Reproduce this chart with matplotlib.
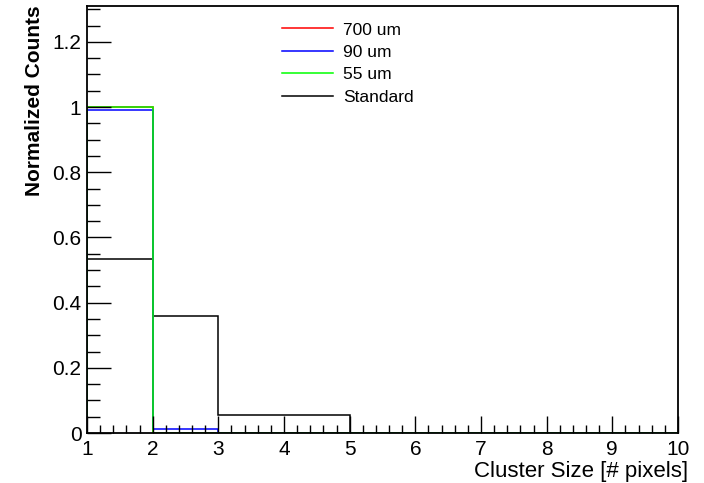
import numpy as np
import matplotlib
matplotlib.use('Agg')
import matplotlib.pyplot as plt
from matplotlib.ticker import MultipleLocator

plt.rcParams['font.family'] = ['Liberation Sans', 'DejaVu Sans']

edges = np.arange(1, 11)
h_700 = [1.0, 0, 0, 0, 0, 0, 0, 0, 0]
h_90 = [0.99, 0.012, 0, 0, 0, 0, 0, 0, 0]
h_55 = [1.0, 0, 0, 0, 0, 0, 0, 0, 0]
h_std = [0.535, 0.36, 0.055, 0.055, 0, 0, 0, 0, 0]
yticks = [0, 0.2, 0.4, 0.6, 0.8, 1.0, 1.2]
ytick_labels = ['0', '0.2', '0.4', '0.6', '0.8', '1', '1.2']

fig = plt.figure(figsize=(7.04, 4.83), dpi=100)
ax = fig.add_axes([0.1236, 0.1035, 0.8394, 0.8841])

# histograms sit under the frame, like ROOT draws them
ax.stairs(h_std, edges, color='black', lw=1.1, label='Standard', zorder=1.1)
ax.stairs(h_700, edges, color='#ff0000', lw=1.1, label='700 um', zorder=1.2)
ax.stairs(h_90, edges, color='#0000ff', lw=1.1, label='90 um', zorder=1.3)
ax.stairs(h_55, edges, color='#00ff00', lw=1.1, label='55 um', zorder=1.4)
for sp in ax.spines.values():
    sp.set_zorder(5)
    sp.set_linewidth(1.3)

ax.set_xlim(1, 10)
ax.set_ylim(0, 1.31)
ax.xaxis.set_major_locator(MultipleLocator(1))
ax.xaxis.set_minor_locator(MultipleLocator(0.2))
ax.set_yticks(yticks)
ax.set_yticklabels(ytick_labels)
ax.yaxis.set_minor_locator(MultipleLocator(0.05))
ax.tick_params(which='both', direction='in', top=False, right=False, labelsize=15, width=1)
ax.tick_params(axis='y', which='major', length=17, pad=4)
ax.tick_params(axis='y', which='minor', length=9)
ax.tick_params(axis='x', which='major', length=12, pad=5)
ax.tick_params(axis='x', which='minor', length=6)

fig.text(688 / 704, 1 - 477 / 483, 'Cluster Size [# pixels]', fontsize=16,
         ha='right', va='baseline')
fig.text(35 / 704, 1 - 5 / 483, 'Normalized Counts', fontsize=15, fontweight='bold',
         rotation=90, ha='center', va='top')

handles, labels = ax.get_legend_handles_labels()
order = [1, 2, 3, 0]
ax.legend([handles[i] for i in order], [labels[i] for i in order],
          loc='upper left', bbox_to_anchor=(0.31, 0.99), frameon=False,
          fontsize=12.5, handlelength=2.9, handletextpad=0.6, labelspacing=0.42,
          borderaxespad=0.3)

fig.savefig('out.png', dpi=100)
